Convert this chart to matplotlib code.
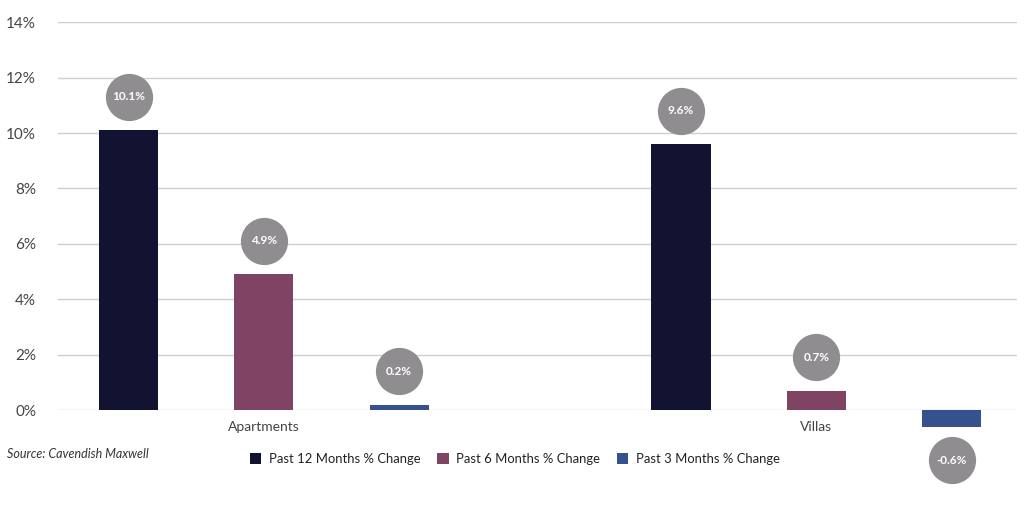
import numpy as np
import matplotlib.pyplot as plt
from matplotlib.transforms import offset_copy

plt.rcParams['font.family'] = ['Lato', 'DejaVu Sans']

categories = ["Apartments", "Villas"]
series_names = ["Past 12 Months % Change", "Past 6 Months % Change", "Past 3 Months % Change"]
past_12 = [10.1, 9.6]
past_6 = [4.9, 0.7]
past_3 = [0.2, -0.6]
colors = ["#121330", "#7f4464", "#35528f"]

fig = plt.figure(figsize=(10.24, 5.05), dpi=100)
ax = fig.add_axes([0.057, 0.188, 0.936, 0.768])

x = np.arange(len(categories))
offsets = [-0.245, 0.0, 0.245]
width = 0.107

for vals, off, col, name in zip([past_12, past_6, past_3], offsets, colors, series_names):
    ax.bar(x + off, vals, width, color=col, label=name, zorder=3, clip_on=False)
    for xi, v in zip(x + off, vals):
        dy = 24 if v >= 0 else -24
        tr = offset_copy(ax.transData, fig=fig, y=dy, units='points')
        ax.plot(xi, v, 'o', ms=34, color='#8f8d90', mec='none', transform=tr,
                clip_on=False, zorder=4)
        ax.text(xi, v, f"{v:.1f}%", transform=tr, ha='center', va='center',
                color='white', fontsize=8.5, fontweight='bold', zorder=5)

ax.set_ylim(0, 14)
ax.set_xlim(-0.372, 1.363)
ax.set_yticks(range(0, 15, 2))
ax.set_yticklabels([f"{t}%" for t in range(0, 15, 2)])
ax.set_xticks(x)
ax.set_xticklabels(categories)
ax.grid(axis='y', color='#cfcfcf', lw=1, zorder=0)
ax.tick_params(axis='both', length=0, colors='#444444')
ax.tick_params(axis='y', labelsize=11, pad=16)
ax.tick_params(axis='x', labelsize=10, pad=8)
for s in ax.spines.values():
    s.set_visible(False)

fig.legend(loc='center', bbox_to_anchor=(0.503, 0.091), ncol=3, frameon=False,
           fontsize=9.4, handlelength=0.85, handleheight=0.85, columnspacing=1.3,
           handletextpad=0.6, labelcolor='#222222')
fig.text(0.007, 0.093, "Source: Cavendish Maxwell", fontsize=9, style='italic',
         color='#333333')

fig.savefig("out.png", dpi=100)
